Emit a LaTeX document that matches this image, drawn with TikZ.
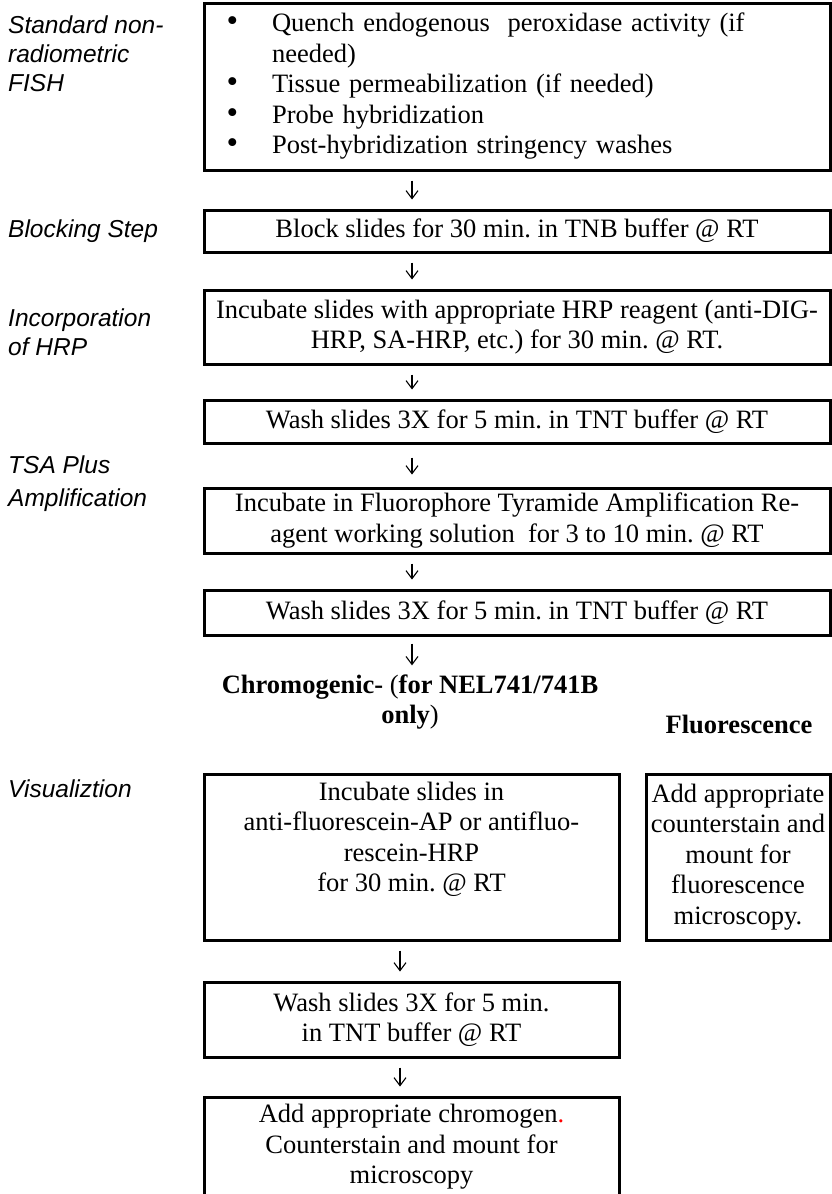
\documentclass[tikz,border=0pt]{standalone}
\usepackage{fontspec}
\setmainfont{Liberation Serif}
\setsansfont{Liberation Sans}
\usetikzlibrary{arrows.meta}
\tikzset{
  stepbox/.style={draw=black, line width=3pt, inner sep=0pt, align=center,
    font=\fontsize{26.5}{30.5}\selectfont},
  widebox/.style={stepbox, minimum width=626pt},
  narrowbox/.style={stepbox, minimum width=415pt},
  phase/.style={anchor=west, inner sep=0pt, align=left,
    font=\sffamily\itshape\fontsize{24.5}{29}\selectfont},
  branch/.style={inner sep=0pt, align=center,
    font=\bfseries\fontsize{26.5}{30.5}\selectfont},
  flow/.style={-{Straight Barb[length=8pt,width=12pt]}, line width=1.1pt,
    shorten <=9pt, shorten >=9pt},
}
\newcommand{\bigdot}{\smash{\fontsize{33}{30}\selectfont\textbullet}}

\begin{document}
\frenchspacing
\begin{tikzpicture}[x=1pt, y=-1pt]
\useasboundingbox (0,0) rectangle (832,1194);

% stages on the left
\node[phase] (lfish) at (8,54) {Standard non-\\radiometric\\FISH};
\node[phase] (lblock) at (8,231) {Blocking Step};
\node[phase] (lhrp) at (8,332) {Incorporation\\of HRP};
\node[phase] (ltsa) at (8,465) {TSA Plus};
\node[phase] (lamp) at (8,500) {Amplification};
\node[phase] (lvis) at (8,789) {Visualiztion};

% main column
\node[widebox, minimum height=167pt, text width=581pt, inner xsep=22.5pt, align=left] (fish) at (517,86.5) {%
\begin{tabular}{@{}l@{\hspace{34pt}}l@{}}
\bigdot & Quench endogenous\ \ peroxidase activity (if\\
 & needed)\\
\bigdot & Tissue permeabilization (if needed)\\
\bigdot & Probe hybridization\\
\bigdot & Post-hybridization stringency washes
\end{tabular}};
\node[widebox, minimum height=42pt] (block) at (517,231) {Block slides for 30 min. in TNB buffer @ RT};
\node[widebox, minimum height=74pt] (hrp) at (517,327) {Incubate slides with appropriate HRP reagent (anti-DIG-\\HRP, SA-HRP, etc.) for 30 min. @ RT.};
\node[widebox, minimum height=43pt] (washa) at (517,421.5) {Wash slides 3X for 5 min. in TNT buffer @ RT};
\node[widebox, minimum height=65pt] (amp) at (517,520.5) {Incubate in Fluorophore Tyramide Amplification Re-\\agent working solution\ \ for 3 to 10 min. @ RT};
\node[widebox, minimum height=45pt] (washb) at (517,612.5) {Wash slides 3X for 5 min. in TNT buffer @ RT};

% two branches
\node[branch] (chromo) at (410,702) {Chromogenic- \textmd{(}for NEL741/741B\\only\textmd{)}};
\node[branch] (fluo) at (739,724) {Fluorescence};

\node[narrowbox, minimum height=166pt] (incub) at (411.5,857) {Incubate slides in\\anti-fluorescein-AP or antifluo-\\rescein-HRP\\for 30 min. @ RT\\[10pt]};
\node[stepbox, minimum width=184pt, minimum height=166pt] (fluobox) at (738,857) {Add appropriate\\counterstain and\\mount for\\fluorescence\\microscopy.};
\node[narrowbox, minimum height=75pt] (washc) at (411.5,1019.5) {Wash slides 3X for 5 min.\\in TNT buffer @ RT};
\node[narrowbox, minimum height=100pt] (final) at (411.5,1147) {Add appropriate chromogen{\color{red}.}\\Counterstain and mount for\\microscopy};

% arrows
\coordinate (upper) at (412,0);
\coordinate (lower) at (400,0);
\draw[flow] (fish.south -| upper) -- (block.north -| upper);
\draw[flow] (block.south -| upper) -- (hrp.north -| upper);
\draw[flow] (hrp.south -| upper) -- (washa.north -| upper);
\draw[flow, shorten <=13pt, shorten >=12pt] (washa.south -| upper) -- (amp.north -| upper);
\draw[flow] (amp.south -| upper) -- (washb.north -| upper);
\draw[flow, shorten <=7pt] (washb.south -| upper) -- (chromo.north -| upper);
\draw[flow] (incub.south -| lower) -- (washc.north -| lower);
\draw[flow] (washc.south -| lower) -- (final.north -| lower);

\end{tikzpicture}
\end{document}
